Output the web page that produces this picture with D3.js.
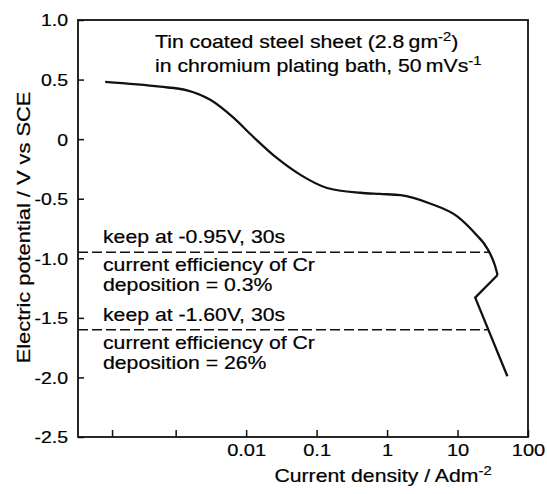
<!DOCTYPE html>
<html>
<head>
<meta charset="utf-8">
<script src="https://cdn.jsdelivr.net/npm/d3@7"></script>
<style>
  body { margin: 0; background: #fff; }
  text { font-family: "Liberation Sans", Arial, sans-serif; fill: #000; stroke: #000; stroke-width: 0.2; }
</style>
</head>
<body>
<div id="chart"></div>
<script>
// polarisation curve
const currentDensity = [1e-4, 6.0e-4, 1.45e-3, 3.1e-3, 6.6e-3, 0.0126, 0.0275, 0.059, 0.141, 0.417,
                        0.79, 1.55, 4.07, 10, 19, 24, 29.5, 33.5, 37, 17.8, 51]
const potential = [0.48, 0.44, 0.41, 0.33, 0.18, 0.02, -0.16, -0.30, -0.41, -0.45,
                   -0.46, -0.47, -0.54, -0.65, -0.81, -0.88, -0.97, -1.05, -1.14, -1.33, -1.99]
const smoothUntil = 18   // sharp corners after this point

// potentiostatic holds (dashed)
const holdPotential = [-0.95, -1.60]
const holdEndCurrent = [29, 26.5]
const holdText = [
  ["keep at -0.95V, 30s", "current efficiency of Cr", "deposition = 0.3%"],
  ["keep at -1.60V, 30s", "current efficiency of Cr", "deposition = 26%"]
]

const xTicks = [1.25e-4, 1e-3, 0.01, 0.1, 1, 10, 100]
const xTickLabels = ["", "", "0.01", "0.1", "1", "10", "100"]
const yTicks = [1.0, 0.5, 0, -0.5, -1.0, -1.5, -2.0, -2.5]
const yTickLabels = ["1.0", "0.5", "0", "-0.5", "-1.0", "-1.5", "-2.0", "-2.5"]

const margin = {top: 20, right: 19, bottom: 57, left: 78}
const width = 547 - margin.left - margin.right
const height = 494 - margin.top - margin.bottom
const SX = 1.18   // the printed lettering is wide

const x = d3.scaleLog().domain([4.11e-5, 100]).range([0, width])
const y = d3.scaleLinear().domain([-2.5, 1.0]).range([height, 0])

const svg = d3.select("#chart").append("svg")
    .attr("width", width + margin.left + margin.right)
    .attr("height", height + margin.top + margin.bottom)

const g = svg.append("g")
    .attr("transform", "translate(" + margin.left + "," + margin.top + ")")

// stretched text helper
const label = (parent, px, py, size, anchor) => parent.append("text")
    .attr("transform", `translate(${px},${py}) scale(${SX},1)`)
    .attr("font-size", size)
    .attr("text-anchor", anchor || "start")

// frame
g.append("rect")
    .attr("width", width)
    .attr("height", height)
    .attr("fill", "none")
    .attr("stroke", "#111")
    .attr("stroke-width", 1.8)

const xAxis = d3.axisBottom(x)
    .tickValues(xTicks)
    .tickFormat((d, i) => xTickLabels[i])
    .tickSize(-7)
    .tickPadding(0)

const yAxis = d3.axisLeft(y)
    .tickValues(yTicks)
    .tickFormat((d, i) => yTickLabels[i])
    .tickSize(-6)
    .tickPadding(0)

const gx = g.append("g")
    .attr("transform", "translate(0," + height + ")")
    .call(xAxis)
gx.select(".domain").remove()
gx.selectAll("line").attr("stroke", "#111").attr("stroke-width", 1.5)
gx.selectAll("text")
    .attr("font-size", 17)
    .attr("y", null).attr("dy", null)
    .attr("transform", `translate(0,19) scale(${SX},1)`)

const gy = g.append("g").call(yAxis)
gy.select(".domain").remove()
gy.selectAll("line").attr("stroke", "#111").attr("stroke-width", 1.5)
gy.selectAll("text")
    .attr("font-size", 16.5)
    .attr("x", null).attr("dy", "0.36em")
    .attr("transform", `translate(-10,0) scale(${SX},1)`)

// axis titles
const xt = label(svg, margin.left + 305, 482, 18, "middle")
xt.append("tspan").text("Current density / Adm")
xt.append("tspan").attr("font-size", 12.5).attr("dy", -7).text("-2")

svg.append("text")
    .attr("transform", `translate(30,${margin.top + height / 2 - 1}) rotate(-90) scale(${SX},1)`)
    .attr("font-size", 18.5)
    .attr("text-anchor", "middle")
    .text("Electric potential / V vs SCE")

// dashed hold lines + notes
holdPotential.forEach((v, i) => {
  g.append("line")
      .attr("x1", 0)
      .attr("x2", x(holdEndCurrent[i]))
      .attr("y1", y(v))
      .attr("y2", y(v))
      .attr("stroke", "#111")
      .attr("stroke-width", 1.5)
      .attr("stroke-dasharray", "10,4")

  label(g, 25, y(v) - 9, 18).text(holdText[i][0])
  label(g, 25, y(v) + 19, 18).text(holdText[i][1])
  label(g, 25, y(v) + 39, 18).text(holdText[i][2])
})

// title note
const t1 = label(g, 77, 28, 18)
t1.append("tspan").text("Tin coated steel sheet (2.8\u2009gm")
t1.append("tspan").attr("font-size", 12.5).attr("dy", -7).text("-2")
t1.append("tspan").attr("dy", 7).text(")")
const t2 = label(g, 77, 52, 18)
t2.append("tspan").text("in chromium plating bath, 50\u2009mVs")
t2.append("tspan").attr("font-size", 12.5).attr("dy", -7).text("-1")

// the curve
const pts = currentDensity.map((c, i) => ({c: c, v: potential[i]}))

const smooth = d3.line()
    .curve(d3.curveMonotoneX)
    .x(d => x(d.c))
    .y(d => y(d.v))
const straight = d3.line()
    .x(d => x(d.c))
    .y(d => y(d.v))

g.append("path")
    .attr("d", smooth(pts.slice(0, smoothUntil + 1)))
    .attr("fill", "none")
    .attr("stroke", "#111")
    .attr("stroke-width", 2.3)
g.append("path")
    .attr("d", straight(pts.slice(smoothUntil)))
    .attr("fill", "none")
    .attr("stroke", "#111")
    .attr("stroke-width", 2.3)
    .attr("stroke-linejoin", "miter")
</script>
</body>
</html>
